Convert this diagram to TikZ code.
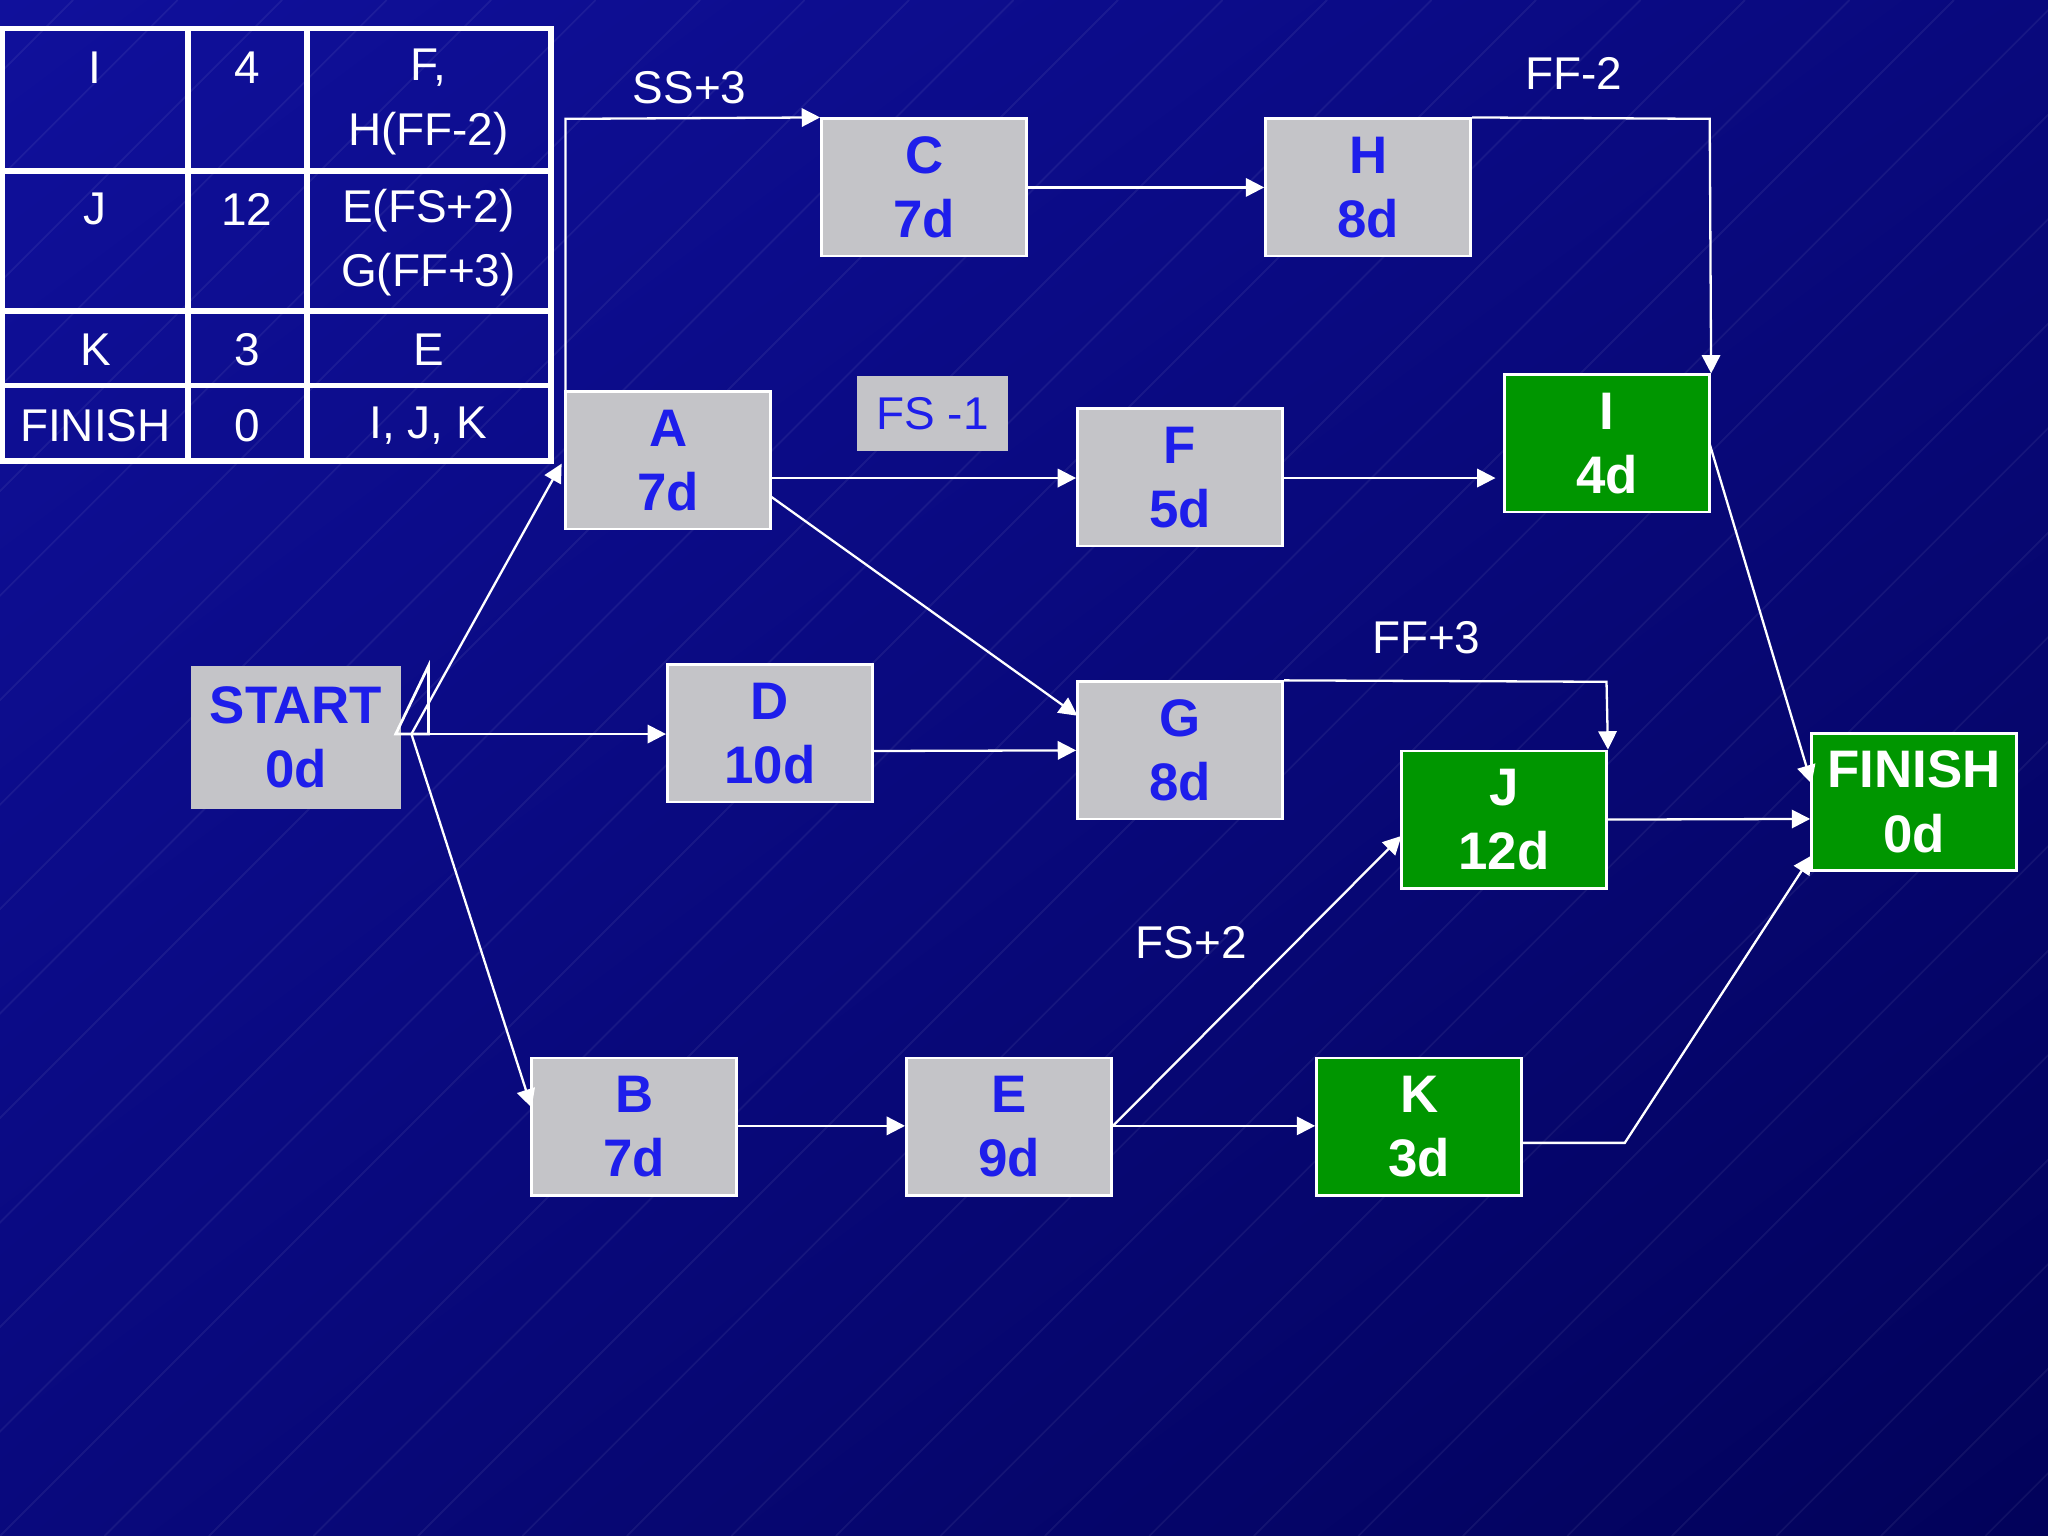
\documentclass[tikz,border=0pt]{standalone}
\usepackage{fontspec}
\setmainfont{Liberation Sans}
\usetikzlibrary{arrows.meta,shadings}
\definecolor{bxgray}{RGB}{196,196,200}
\definecolor{bxgreen}{RGB}{0,150,0}
\definecolor{bxblue}{RGB}{30,30,235}
\definecolor{bgA}{RGB}{16,16,155}
\definecolor{bgM}{RGB}{9,9,125}
\definecolor{bgB}{RGB}{2,2,90}
\tikzset{
 box/.style={draw=white,line width=0.6pt,minimum width=1.57cm,minimum height=1.05cm,inner sep=0pt,align=center,font=\bfseries\fontsize{11.5}{14}\selectfont,text=bxblue,fill=bxgray},
 gbox/.style={box,fill=bxgreen,text=white},
 con/.style={draw=white,line width=0.5pt,-{Triangle[length=4pt,width=4pt]}},
 lab/.style={text=white,font=\fontsize{10}{12}\selectfont},
 cell/.style={text=white,font=\fontsize{10}{14}\selectfont,align=center},
}
\begin{document}
\begin{tikzpicture}[x=0.01cm,y=-0.01cm]
\shade[upper left=bgA,upper right=bgM,lower left=bgM,lower right=bgB] (0,0) rectangle (1568,1176);
\useasboundingbox (0,0) rectangle (1568,1176);
\begin{scope}
\clip (0,0) rectangle (1568,1176);
\foreach \i in {-1200,-1120,...,1600}
  \draw[white,opacity=0.06,line width=0.4pt] (\i,1176) -- (\i+1176,0);
\end{scope}
% table
\draw[white,line width=1.2pt] (2,22) rectangle (422,353);
\foreach \y in {131,238,295} \draw[white,line width=1.2pt] (2,\y) -- (422,\y);
\foreach \x in {144,235} \draw[white,line width=1.2pt] (\x,22) -- (\x,353);
\node[cell] (t11) at (73,52) {I};
\node[cell] (t12) at (189,52) {4};
\node[cell] (t13) at (328,78) {F,\\H(FF-2)};
\node[cell] (t21) at (73,160) {J};
\node[cell] (t22) at (189,160) {12};
\node[cell] (t23) at (328,186) {E(FS+2)\\G(FF+3)};
\node[cell] (t31) at (73,268) {K};
\node[cell] (t32) at (189,268) {3};
\node[cell] (t33) at (328,268) {E};
\node[cell] (t41) at (73,326) {FINISH};
\node[cell] (t42) at (189,326) {0};
\node[cell] (t43) at (328,326) {I, J, K};
% nodes
\node[box] (C) at (707.5,143.5) {C\\7d};
\node[box] (H) at (1047.5,143.5) {H\\8d};
\node[box] (A) at (511.5,352.5) {A\\7d};
\node[box] (F) at (903.5,365.5) {F\\5d};
\node[gbox] (I) at (1230.5,339.5) {I\\4d};
\node[box,minimum width=1.61cm,minimum height=1.09cm,draw=none] (S) at (226.5,564.5) {START\\0d};
\node[box] (D) at (589.5,561.5) {D\\10d};
\node[box] (G) at (903.5,574.5) {G\\8d};
\node[gbox] (J) at (1151.5,627.5) {J\\12d};
\node[gbox] (FIN) at (1465.5,614) {FINISH\\0d};
\node[box] (B) at (485.5,862.5) {B\\7d};
\node[box] (E) at (772.5,862.5) {E\\9d};
\node[gbox] (K) at (1086.5,862.5) {K\\3d};
\node[fill=bxgray,text=bxblue,minimum width=1.16cm,minimum height=0.57cm,inner sep=0pt,font=\fontsize{10}{12}\selectfont] (fsm) at (714,316.5) {FS -1};
% start triangle
\coordinate (s0) at (315,562);
\draw[white,line width=0.6pt] (303,562) -- (328,510) -- (328,562) -- cycle;
% connectors
\draw[con] (433,300) -- (433,91) -- (C.north west);
\node[lab] (l1) at (528,67) {SS+3};
\draw[con] (C) -- (H);
\draw[con] (H.north east) -- (1309,91) -- (I.north east);
\node[lab] (l2) at (1205,56) {FF-2};
\draw[con] (590,366) -- (F.west |- 0,366);
\draw[con] (F.east |- 0,366) -- (1145,366);
\draw[con] (590,380) -- (825,548);
\draw[con] (s0) -- (430,355);
\draw[con] (s0) -- (D.west |- 0,562);
\draw[con] (s0) -- (407,848);
\draw[con] (D.east |- 0,575) -- (G.west);
\draw[con] (G.north east) -- (1230,522) -- (J.north east);
\node[lab] (l3) at (1092,488) {FF+3};
\draw[con] (B.east |- 0,862) -- (E.west |- 0,862);
\draw[con] (E.east |- 0,862) -- (K.west |- 0,862);
\draw[con] (E.east |- 0,862) -- (1073,640);
\node[lab] (l4) at (912,722) {FS+2};
\draw[con] (1309,340) -- (1387,600);
\draw[con] (J.east) -- (FIN.west |- 0,627);
\draw[con] (K.east |- 0,875) -- (1244,875) -- (1387,655);
\end{tikzpicture}
\end{document}
